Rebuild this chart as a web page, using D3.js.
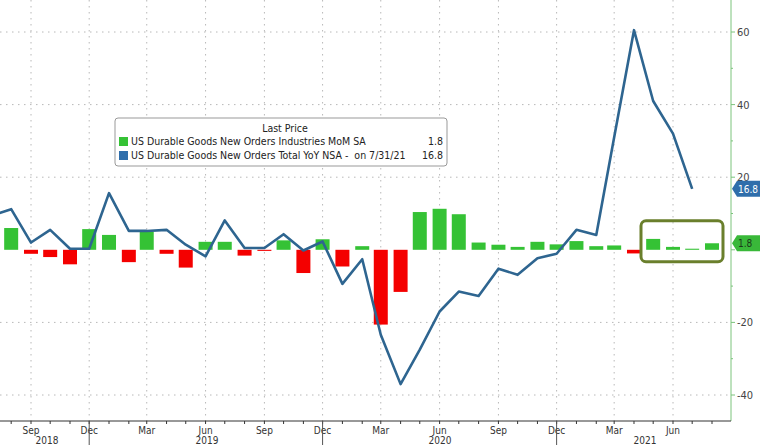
<!DOCTYPE html>
<html>
<head>
<meta charset="utf-8">
<script src="https://cdn.jsdelivr.net/npm/d3@7"></script>
<style>
body { margin: 0; background: #fff; }
text { font-family: "DejaVu Sans Condensed", "DejaVu Sans", sans-serif; }
</style>
</head>
<body>
<svg id="chart" width="760" height="445"></svg>
<script>
// MoM bars, Jul 2018 .. Aug 2021
const barStart = [2018, 6]
const barValues = [-1.5, 6, -1.1, -2, -4, 5.7, 4.1, -3.4, 5, -1.1, -4.9, 2.2, 2.2, -1.6, -0.3, 2.6, -6.4, 2.9, -4.6, 1,
    -20.6, -11.6, 10.4, 11.3, 9.8, 2, 1.4, 0.8, 2.2, 1.5, 2.4, 1, 1.2, -1, 3, 0.8, 0.3, 1.8]

// YoY line, Jul 2018 .. Jul 2021
const lineStart = [2018, 6]
const lineValues = [9.4, 11.2, 2, 5.5, 0.3, 0.3, 15.6, 5.2, 5.2, 5.5, 1.4, -1.8, 8.1, 0.5, 0.5, 4.3, -0.2, 2.3, -9.4, -2.6,
    -23.4, -37, -27.5, -17, -11.5, -12.7, -5.2, -6.9, -2.3, -1.1, 5.5, 4.1, 31, 60.5, 41, 32, 16.8]

const yTicks = [-40, -20, 0, 20, 40, 60]
const monthLabels = ['Sep', 'Dec', 'Mar', 'Jun']
const yearLabels = ['2018', '2019', '2020', '2021']

const toDate = (start, i) => new Date(start[0], start[1] + i, 1)
const bars = barValues.map((v, i) => ({ date: toDate(barStart, i), v }))
const line = lineValues.map((v, i) => ({ date: toDate(lineStart, i), v }))

const svg = d3.select('#chart')
const width = 760, height = 445
const axisX = 731, axisY = 421

const x = d3.scaleTime()
    .domain([new Date(2018, 8, 1), new Date(2021, 5, 1)])
    .range([31, 673])
const y = d3.scaleLinear().domain([-40, 60]).range([395, 32])

const quarters = d3.timeMonth.range(new Date(2018, 8, 1), new Date(2021, 7, 1), 3)

// grid
svg.append('g')
    .selectAll('line')
    .data(quarters)
    .join('line')
    .attr('x1', d => x(d)).attr('x2', d => x(d))
    .attr('y1', 0).attr('y2', axisY)
    .attr('stroke', '#b8b8b8').attr('stroke-dasharray', '1.5,4.5')

svg.append('g')
    .selectAll('line')
    .data(yTicks.filter(d => d !== 0))
    .join('line')
    .attr('x1', 0).attr('x2', axisX)
    .attr('y1', d => y(d)).attr('y2', d => y(d))
    .attr('stroke', '#b8b8b8').attr('stroke-dasharray', '1.5,4.5')

// bars
const bw = 14
svg.append('g')
    .selectAll('rect')
    .data(bars)
    .join('rect')
    .attr('x', d => x(d.date) - bw / 2)
    .attr('width', bw)
    .attr('y', d => y(Math.max(0, d.v)))
    .attr('height', d => Math.abs(y(d.v) - y(0)))
    .attr('fill', d => d.v >= 0 ? '#35c235' : '#f40000')

// line
svg.append('path')
    .datum(line)
    .attr('fill', 'none')
    .attr('stroke', '#2e6590')
    .attr('stroke-width', 2.6)
    .attr('stroke-linejoin', 'round')
    .attr('d', d3.line().x(d => x(d.date)).y(d => y(d.v)))

// highlight box
svg.append('rect')
    .attr('x', x(new Date(2021, 3, 1)) + 7).attr('y', y(8))
    .attr('width', 82).attr('height', 41)
    .attr('rx', 5)
    .attr('fill', 'none').attr('stroke', '#6a7f2c').attr('stroke-width', 3)

// right axis
svg.append('line')
    .attr('x1', axisX).attr('x2', axisX).attr('y1', 0).attr('y2', axisY)
    .attr('stroke', '#7cc47c')
const ra = svg.append('g')
ra.selectAll('line')
    .data(d3.range(-40, 61, 10))
    .join('line')
    .attr('x1', axisX).attr('x2', d => axisX + (d % 20 === 0 ? 4 : 2))
    .attr('y1', d => y(d)).attr('y2', d => y(d))
    .attr('stroke', '#7cc47c')
ra.selectAll('text')
    .data(yTicks.filter(d => d !== 0))
    .join('text')
    .attr('x', axisX + 6).attr('y', d => y(d) + 4)
    .attr('font-size', 11).attr('fill', '#444')
    .text(d => d)

// value tags
const tag = (v, fill, textFill) => {
    const ty = y(v)
    svg.append('path')
        .attr('d', `M${axisX + 1},${ty} L${axisX + 6},${ty - 8} H${width} V${ty + 8} H${axisX + 6} Z`)
        .attr('fill', fill)
    svg.append('text')
        .attr('x', axisX + 7).attr('y', ty + 4)
        .attr('font-size', 10).attr('fill', textFill)
        .text(v)
}
tag(lineValues[lineValues.length - 1], '#2f6eab', '#fff')
tag(barValues[barValues.length - 1], '#39b839', '#1a3a1a')

// bottom axis
svg.append('line')
    .attr('x1', 0).attr('x2', axisX).attr('y1', axisY).attr('y2', axisY)
    .attr('stroke', '#333')
svg.append('g')
    .selectAll('line')
    .data(d3.timeMonth.range(new Date(2018, 6, 1), new Date(2021, 8, 1)))
    .join('line')
    .attr('x1', d => x(d)).attr('x2', d => x(d))
    .attr('y1', axisY).attr('y2', axisY + 3)
    .attr('stroke', '#333')
svg.append('g')
    .selectAll('text')
    .data(quarters)
    .join('text')
    .attr('x', d => x(d)).attr('y', axisY + 13)
    .attr('text-anchor', 'middle').attr('font-size', 10).attr('fill', '#333')
    .text((d, i) => monthLabels[i % 4])

// year separators and labels
const decs = quarters.filter(d => d.getMonth() === 11)
svg.append('g')
    .selectAll('line')
    .data(decs)
    .join('line')
    .attr('x1', d => x(d)).attr('x2', d => x(d))
    .attr('y1', axisY).attr('y2', height)
    .attr('stroke', '#555')
const yearX = [47, 207, 440, 645]
svg.append('g')
    .selectAll('text')
    .data(yearLabels)
    .join('text')
    .attr('x', (d, i) => yearX[i]).attr('y', axisY + 23)
    .attr('text-anchor', 'middle').attr('font-size', 10).attr('fill', '#333')
    .text(d => d)

// legend
const lg = svg.append('g').attr('transform', 'translate(115,118)')
lg.append('rect')
    .attr('width', 332).attr('height', 48).attr('rx', 3)
    .attr('fill', '#fff').attr('stroke', '#999')
lg.append('text').attr('x', 170).attr('y', 14)
    .attr('text-anchor', 'middle').attr('font-size', 10.5).attr('fill', '#222')
    .text('Last Price')
const rows = [
    { color: '#35c235', label: 'US Durable Goods New Orders Industries MoM SA', value: '1.8' },
    { color: '#2f6eab', label: 'US Durable Goods New Orders Total YoY NSA -  on 7/31/21', value: '16.8' }
]
rows.forEach((r, i) => {
    const ry = 27 + i * 14
    lg.append('rect').attr('x', 4).attr('y', ry - 8).attr('width', 9).attr('height', 9).attr('fill', r.color)
    lg.append('text').attr('x', 16).attr('y', ry)
        .attr('font-size', 10.5).attr('fill', '#222').attr('xml:space', 'preserve')
        .text(r.label)
    lg.append('text').attr('x', 328).attr('y', ry)
        .attr('text-anchor', 'end').attr('font-size', 10.5).attr('fill', '#222')
        .text(r.value)
})
</script>
</body>
</html>
